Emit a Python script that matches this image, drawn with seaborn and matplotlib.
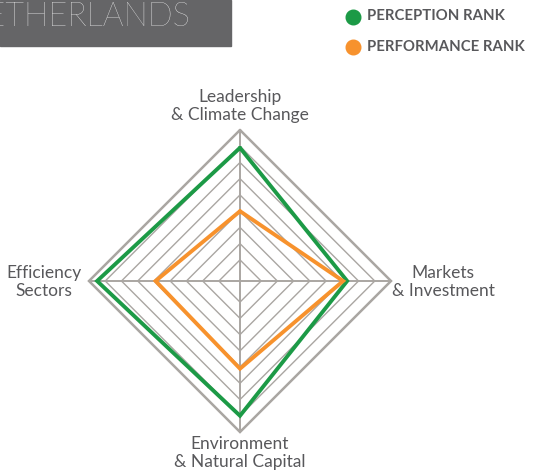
import numpy as np
import pandas as pd
import matplotlib
matplotlib.use("Agg")
import matplotlib.pyplot as plt
from matplotlib.lines import Line2D
from matplotlib.patches import Rectangle
import seaborn as sns

# ---- data ----
categories = ["Leadership\n& Climate Change", "Markets\n& Investment",
              "Environment\n& Natural Capital", "Efficiency\nSectors"]
perception = [6.9, 5.3, 7.0, 7.5]
performance = [3.0, 5.05, 4.1, 3.9]
series_names = ["PERCEPTION RANK", "PERFORMANCE RANK"]
ring_levels = list(range(0, 9))
title_text = "NETHERLANDS"

GREEN = "#1c9a46"
ORANGE = "#f7922d"
GRID = "#aaa6a2"
TEXT = "#58585b"

sns.set_theme(style="white")
plt.rcParams["font.family"] = ["Lato", "DejaVu Sans"]

W, H = 534, 474
fig = plt.figure(figsize=(W / 100, H / 100), dpi=100)

# axes placement (pixels): center (240, 281), span 320 px
cx, cy, span = 240, 281, 320
ax = fig.add_axes([(cx - span / 2) / W, (H - cy - span / 2) / H, span / W, span / H])
OFFSET = 1.3           # radial origin offset (center sits below the first ring)
RMAX = ring_levels[-1] + OFFSET
lim = RMAX * (span / 2) / 151
ax.set_xlim(-lim, lim)
ax.set_ylim(-lim, lim)
ax.set_aspect("equal")
ax.axis("off")

angles = np.array([0, 90, 180, 270]) * np.pi / 180  # clockwise from top


def to_xy(vals):
    r = np.asarray(vals, dtype=float) + OFFSET
    return r * np.sin(angles), r * np.cos(angles)

# rings
for lv in ring_levels:
    x, y = to_xy([lv] * 4)
    x = np.append(x, x[0]); y = np.append(y, y[0])
    outer = lv == ring_levels[-1]
    ax.plot(x, y, color=GRID, lw=1.8 if outer else 1.0, zorder=1,
            solid_joinstyle="miter")
# spokes
xo, yo = to_xy([ring_levels[-1]] * 4)
for a, b in zip(xo, yo):
    ax.plot([0, a], [0, b], color=GRID, lw=1.4, zorder=1)

# series
rows = []
for name, vals in zip(series_names, [perception, performance]):
    x, y = to_xy(vals)
    x = np.append(x, x[0]); y = np.append(y, y[0])
    for i, (a, b) in enumerate(zip(x, y)):
        rows.append({"series": name, "order": i, "x": a, "y": b})
df = pd.DataFrame(rows)
sns.lineplot(data=df, x="x", y="y", hue="series", sort=False, estimator=None,
             palette={series_names[0]: GREEN, series_names[1]: ORANGE},
             lw=2.8, ax=ax, legend=False, zorder=3)
for line in ax.lines[-2:]:
    line.set_solid_joinstyle("miter")

# category labels (figure pixel positions)
lab_pos = [(240, 106), (443, 282), (240, 453), (44, 282)]
for lab, (px, py) in zip(categories, lab_pos):
    fig.text(px / W, 1 - py / H, lab, ha="center", va="center", fontsize=12.5,
             color=TEXT, linespacing=1.2, fontweight="normal")

# title box
fig.patches.append(Rectangle((0, 1 - 46 / H), 231 / W, 46 / H,
                             transform=fig.transFigure, color="#656567", zorder=0))
fig.text(190 / W, 1 - 26 / H, title_text, ha="right", va="baseline", fontsize=23.5,
         color="white", fontweight="light")

# legend
for name, col, py in zip(series_names, [GREEN, ORANGE], [16.5, 47]):
    fig.lines.append(Line2D([353 / W], [1 - py / H], marker="o", markersize=10.5,
                            color=col, transform=fig.transFigure))
    fig.text(367 / W, 1 - py / H, name, ha="left", va="center", fontsize=10.7,
             color=TEXT, fontweight="bold")

fig.savefig("out.png", dpi=100, facecolor="white")
